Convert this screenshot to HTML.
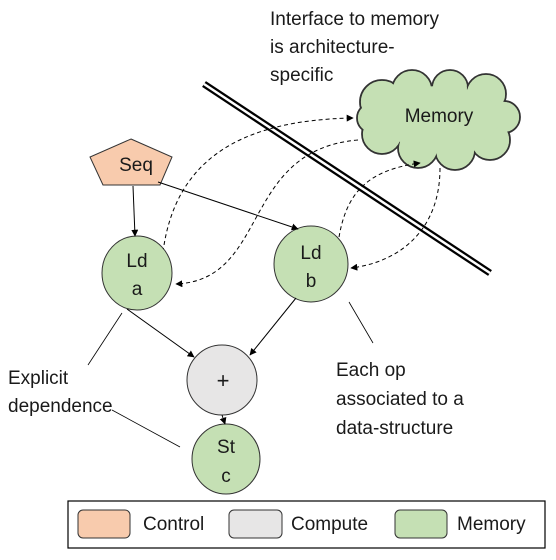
<!DOCTYPE html>
<html><head><meta charset="utf-8"><style>
html,body{margin:0;padding:0;background:#fff;}
svg{display:block;}
text{font-family:"Liberation Sans",sans-serif;fill:#1a1a1a;}
</style></head><body>
<svg width="556" height="560" viewBox="0 0 556 560" xmlns="http://www.w3.org/2000/svg">
<defs>
<marker id="a" viewBox="0 0 10 10" refX="9" refY="5" markerWidth="7" markerHeight="7" orient="auto"><path d="M0,0 L10,5 L0,10 z" fill="#000"/></marker>
</defs>
<text x="270" y="25" font-size="19">Interface to memory</text>
<text x="270" y="53" font-size="19">is architecture-</text>
<text x="270" y="81" font-size="19">specific</text>
<line x1="204" y1="84" x2="490" y2="273" stroke="#000" stroke-width="7"/>
<line x1="204" y1="84" x2="490" y2="273" stroke="#fff" stroke-width="2.5"/>
<g fill="#c5e0b4" stroke="#333" stroke-width="1.8">
<circle cx="382" cy="102" r="22"/><circle cx="412" cy="90" r="20"/><circle cx="450" cy="88" r="18"/><circle cx="486" cy="94" r="20"/><circle cx="504" cy="117" r="16"/><circle cx="490" cy="140" r="20"/><circle cx="455" cy="150" r="20"/><circle cx="418" cy="148" r="20"/><circle cx="382" cy="134" r="20"/><circle cx="372" cy="118" r="15"/>
</g>
<g fill="#c5e0b4">
<circle cx="382" cy="102" r="21"/><circle cx="412" cy="90" r="19"/><circle cx="450" cy="88" r="17"/><circle cx="486" cy="94" r="19"/><circle cx="504" cy="117" r="15"/><circle cx="490" cy="140" r="19"/><circle cx="455" cy="150" r="19"/><circle cx="418" cy="148" r="19"/><circle cx="382" cy="134" r="19"/><circle cx="372" cy="118" r="14"/>
<ellipse cx="440" cy="118" rx="60" ry="32"/>
</g>
<text x="439" y="122" font-size="19" text-anchor="middle">Memory</text>
<g fill="none" stroke="#000" stroke-width="1" stroke-dasharray="4,3" marker-end="url(#a)">
<path d="M163,252 C175,160 240,120 353,118"/>
<path d="M358,140 C240,150 270,280 176,284"/>
<path d="M338,244 C345,190 370,170 420,163"/>
<path d="M440,168 C440,230 400,262 351,268"/>
</g>
<polygon points="131,139 172,157 160,185 103,185 90,157" fill="#f8cbad" stroke="#333" stroke-width="1"/>
<text x="136" y="171" font-size="19" text-anchor="middle">Seq</text>
<ellipse cx="137" cy="273" rx="35" ry="37" fill="#c5e0b4" stroke="#333"/>
<text x="137" y="267" font-size="19" text-anchor="middle">Ld</text>
<text x="137" y="295" font-size="19" text-anchor="middle">a</text>
<ellipse cx="311" cy="264" rx="37" ry="38" fill="#c5e0b4" stroke="#333"/>
<text x="311" y="259" font-size="19" text-anchor="middle">Ld</text>
<text x="311" y="287" font-size="19" text-anchor="middle">b</text>
<circle cx="222" cy="380" r="35" fill="#e7e6e6" stroke="#333"/>
<text x="223" y="388" font-size="22" text-anchor="middle">+</text>
<ellipse cx="226" cy="459" rx="34" ry="35" fill="#c5e0b4" stroke="#333"/>
<text x="226" y="453" font-size="19" text-anchor="middle">St</text>
<text x="226" y="482" font-size="19" text-anchor="middle">c</text>
<g stroke="#000" stroke-width="1" marker-end="url(#a)">
<line x1="133" y1="186" x2="135" y2="236"/>
<line x1="158" y1="182" x2="298" y2="229"/>
<line x1="127" y1="309" x2="194" y2="357"/>
<line x1="296" y1="298" x2="250" y2="355"/>
<line x1="222" y1="415" x2="225" y2="424"/>
</g>
<g stroke="#000" stroke-width="0.8">
<line x1="122" y1="313" x2="88" y2="365"/>
<line x1="349" y1="302" x2="373" y2="343"/>
<line x1="112" y1="410" x2="180" y2="447"/>
</g>
<text x="8" y="384" font-size="19">Explicit</text>
<text x="8" y="412" font-size="19">dependence</text>
<text x="336" y="376" font-size="19">Each op</text>
<text x="336" y="405" font-size="19">associated to a</text>
<text x="336" y="434" font-size="19">data-structure</text>
<rect x="68" y="501" width="477" height="47" fill="#fff" stroke="#000" stroke-width="1.2"/>
<rect x="78" y="510" width="52" height="28" rx="5" fill="#f8cbad" stroke="#333"/>
<text x="143" y="530" font-size="19">Control</text>
<rect x="229" y="510" width="53" height="28" rx="5" fill="#e7e6e6" stroke="#333"/>
<text x="291" y="530" font-size="19">Compute</text>
<rect x="395" y="510" width="52" height="28" rx="5" fill="#c5e0b4" stroke="#333"/>
<text x="457" y="530" font-size="19">Memory</text>
</svg>
</body></html>
